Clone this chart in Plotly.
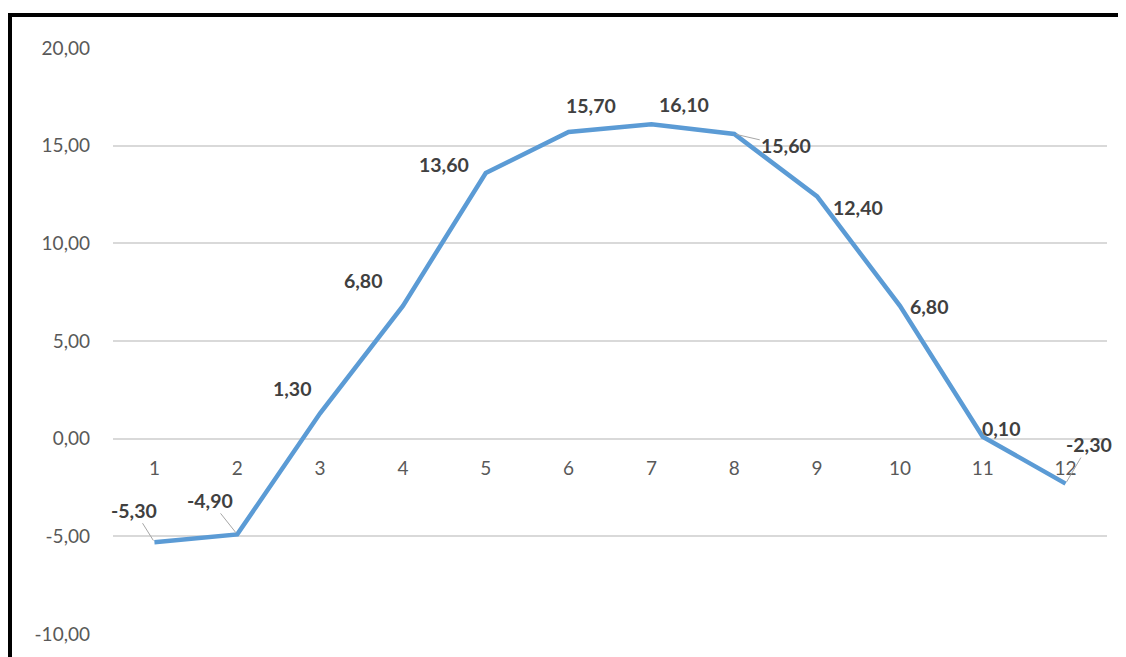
import plotly.graph_objects as go

categories = [1, 2, 3, 4, 5, 6, 7, 8, 9, 10, 11, 12]
values = [-5.3, -4.9, 1.3, 6.8, 13.6, 15.7, 16.1, 15.6, 12.4, 6.8, 0.1, -2.3]
y_ticks = [-10, -5, 0, 5, 10, 15, 20]

# label offsets (pixels) relative to each point, and whether a leader line is drawn
label_dx = [-20, -27, -28, -39, -42, 22, 33, 52, 41, 30, 19, 23]
label_dy = [-32, -34, -25, -25, -9, -26, -20, 12, 11, 1, -8, -39]
leader = [True, True, False, False, False, False, False, True, False, False, False, True]

W, H = 1118, 649
ML, MR, MT, MB = 105, 19, 40, 23
pw = W - ML - MR
ph = H - MT - MB

fig = go.Figure()
fig.add_trace(go.Scatter(
    x=categories, y=values, mode="lines",
    line=dict(color="#5B9BD5", width=4.5), hoverinfo="skip", showlegend=False,
))

def fmt(v):
    return f"{v:.2f}".replace(".", ",")

lab_font = dict(family="Lato", size=19.5, color="#404040", weight="bold")
for c, v, dx, dy, ld in zip(categories, values, label_dx, label_dy, leader):
    if ld:
        fig.add_annotation(x=c, y=v, text=fmt(v), showarrow=True, ax=dx, ay=dy,
                           arrowhead=0, arrowwidth=1, arrowcolor="#A6A6A6", standoff=2,
                           font=lab_font)
    else:
        fig.add_annotation(x=c, y=v, text=fmt(v), showarrow=False, xshift=dx, yshift=-dy,
                           font=lab_font)

ymin, ymax = -10, 20
tick_font = dict(family="Lato", size=19, color="#595959")
fig.update_layout(
    width=W, height=H,
    margin=dict(l=ML, r=MR, t=MT, b=MB),
    paper_bgcolor="white", plot_bgcolor="white",
    xaxis=dict(
        range=[0.5, 12.5], tickmode="array", tickvals=categories,
        ticktext=[str(c) for c in categories],
        showgrid=False, zeroline=False, showline=False, ticks="",
        anchor="free", position=(0 - ymin) / (ymax - ymin),
        ticklabelstandoff=16, tickfont=tick_font,
    ),
    yaxis=dict(
        range=[ymin, ymax], tickmode="array", tickvals=y_ticks,
        ticktext=[fmt(t) for t in y_ticks],
        showgrid=True, gridcolor="#D9D9D9", gridwidth=1.5,
        zeroline=False, showline=False, ticks="", ticklabelstandoff=22,
        tickfont=tick_font,
    ),
    shapes=[
        dict(type="line", xref="paper", yref="paper",
             x0=(0 - ML) / pw, x1=(W - ML) / pw,
             y0=1 + (MT - 7) / ph, y1=1 + (MT - 7) / ph,
             line=dict(color="black", width=4)),
        dict(type="line", xref="paper", yref="paper",
             x0=(2 - ML) / pw, x1=(2 - ML) / pw,
             y0=1 + (MT - 5) / ph, y1=-MB / ph - 0.02,
             line=dict(color="black", width=4)),
    ],
)

fig.write_html("out.html")
